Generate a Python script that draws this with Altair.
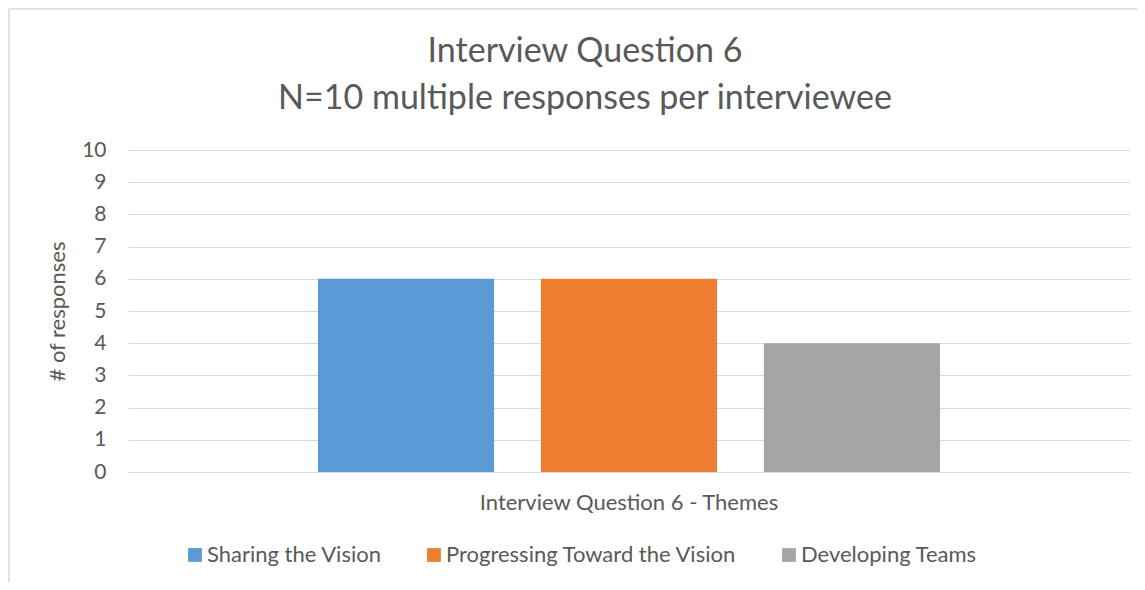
import altair as alt
import pandas as pd

category = ["Interview Question 6 - Themes"] * 3
themes = ["Sharing the Vision", "Progressing Toward the Vision", "Developing Teams"]
responses = [6, 6, 4]
colors = ["#5B9BD5", "#ED7D31", "#A5A5A5"]
y_ticks = [0, 1, 2, 3, 4, 5, 6, 7, 8, 9, 10]

df = pd.DataFrame({"category": category, "theme": themes, "responses": responses})

FONT = "Lato"
TXT = "#595959"
FS = 21

bars = alt.Chart(df).mark_bar().encode(
    x=alt.X("category:N", title=None,
            scale=alt.Scale(paddingInner=0, paddingOuter=0.249),
            axis=alt.Axis(labelAngle=0, labelPadding=20, ticks=False,
                          domainColor="#d9d9d9", labelColor=TXT, labelLimit=600,
                          labelFontSize=FS + 1, labelFont=FONT)),
    xOffset=alt.XOffset("theme:N", sort=themes,
                        scale=alt.Scale(paddingInner=0.21, paddingOuter=0.105)),
    y=alt.Y("responses:Q", title="# of responses",
            scale=alt.Scale(domain=[0, 10]),
            axis=alt.Axis(values=y_ticks, tickCount=11, labelOverlap=False, ticks=False,
                          domain=False, gridColor="#d9d9d9", labelPadding=22,
                          labelColor=TXT, labelFontSize=FS, labelFont=FONT,
                          titleColor=TXT, titleFontSize=FS + 1, titleFont=FONT,
                          titleFontWeight="normal", titlePadding=12)),
    color=alt.Color("theme:N", sort=themes,
                    scale=alt.Scale(domain=themes, range=colors),
                    legend=alt.Legend(title=None, orient="none", direction="horizontal",
                                      legendX=56, legendY=394,
                                      symbolType="square", symbolSize=190,
                                      symbolStrokeWidth=0, columnPadding=41,
                                      labelFontSize=FS + 1, labelFont=FONT, labelLimit=600,
                                      labelColor=TXT, labelOffset=1)),
)

border_df = pd.DataFrame({"b": [1]})
top_line = alt.Chart(border_df).mark_rule(stroke="#d9d9d9", strokeWidth=1.5).encode(
    x=alt.value(-119), x2=alt.value(1400), y=alt.value(-141)
)
left_line = alt.Chart(border_df).mark_rule(stroke="#d9d9d9", strokeWidth=1.5).encode(
    x=alt.value(-119), y=alt.value(-141), y2=alt.value(600)
)

chart = alt.layer(top_line, left_line, bars).properties(
    width=1002, height=322,
    autosize=alt.AutoSizeParams(type="none"),
    padding={"left": 120, "top": 142, "right": 7, "bottom": 110},
    title=alt.TitleParams(
        text=["Interview Question 6", "N=10 multiple responses per interviewee"],
        font=FONT, fontSize=34, fontWeight="normal", color=TXT,
        anchor="middle", dx=-44, offset=-108, lineHeight=47,
    ),
).configure_view(stroke=None)

chart.save("out.html", embed_options={"renderer": "svg", "actions": False})
